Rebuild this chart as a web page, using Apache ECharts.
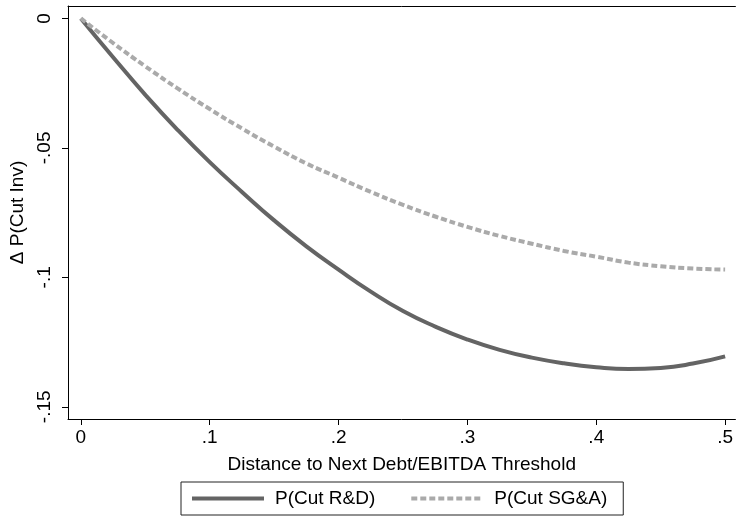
<!DOCTYPE html>
<html>
<head>
<meta charset="utf-8">
<script src="https://cdn.jsdelivr.net/npm/echarts@6/dist/echarts.min.js"></script>
<style>
html,body{margin:0;padding:0;background:#fff;}
#chart{width:736px;height:519px;}
</style>
</head>
<body>
<div id="chart"></div>
<script>
var xValues = [0, 0.025, 0.05, 0.075, 0.1, 0.125, 0.15, 0.175, 0.2, 0.225, 0.25, 0.275, 0.3, 0.325, 0.35, 0.375, 0.4, 0.425, 0.45, 0.475, 0.5];
var rdValues = [0, -0.0150, -0.0295, -0.0430, -0.0555, -0.0670, -0.0780, -0.0880, -0.0970, -0.1055, -0.1130, -0.1190, -0.1240, -0.1280, -0.1310, -0.1332, -0.1347, -0.1354, -0.1350, -0.1333, -0.1305];
var sgaValues = [0, -0.0095, -0.0185, -0.0270, -0.0350, -0.0425, -0.0495, -0.0560, -0.0615, -0.0670, -0.0720, -0.0765, -0.0805, -0.0840, -0.0870, -0.0898, -0.0920, -0.0943, -0.0957, -0.0966, -0.0970];
var seriesNames = ['P(Cut R&D)', 'P(Cut SG&A)'];
var xTicks = [0, 0.1, 0.2, 0.3, 0.4, 0.5];
var xTickLabels = ['0', '.1', '.2', '.3', '.4', '.5'];
var yTicks = [0, -0.05, -0.1, -0.15];
var yTickLabels = ['0', '-.05', '-.1', '-.15'];
var xTitle = 'Distance to Next Debt/EBITDA Threshold';
var yTitle = '\u0394 P(Cut Inv)';

function pairs(ys){ return xValues.map(function(x,i){ return [x, ys[i]]; }); }
function labelFor(ticks, labels){
  return function(v){
    for (var i=0;i<ticks.length;i++){ if (Math.abs(ticks[i]-v) < 1e-6) return labels[i]; }
    return '';
  };
}
var FONT = 'Liberation Sans, Arial, Helvetica, sans-serif';
var FS = 19;
var chart = echarts.init(document.getElementById('chart'), null, {renderer:'canvas'});
chart.setOption({
  animation: false,
  backgroundColor: '#fff',
  grid: {left: 65, right: 0, top: 6, bottom: 100, containLabel: false},
  legend: {
    left: 181, top: 482,
    borderColor: '#222', borderWidth: 1, borderRadius: 0,
    padding: [7, 16, 7, 9],
    itemWidth: 72, itemHeight: 18, itemGap: 34,
    itemStyle: {opacity: 0},
    lineStyle: {width: 4},
    textStyle: {fontFamily: FONT, fontSize: FS, color: '#000', padding: [0,0,0,6]},
    data: seriesNames
  },
  xAxis: [{
    type: 'value', min: -0.01, max: 0.508, position: 'bottom',
    splitLine: {show:false},
    axisLine: {show:true, onZero:false, lineStyle:{color:'#000', width:1}},
    axisTick: {show:true, customValues: xTicks, length: 6, lineStyle:{color:'#000'}},
    axisLabel: {customValues: xTicks, formatter: labelFor(xTicks, xTickLabels), fontFamily: FONT, fontSize: FS, color:'#000', margin: 9},
    name: xTitle, nameLocation: 'middle', nameGap: 36,
    nameTextStyle: {fontFamily: FONT, fontSize: FS, color:'#000'}
  },{
    type: 'value', min: -0.01, max: 0.508, position: 'top',
    splitLine: {show:false},
    axisLine: {show:true, onZero:false, lineStyle:{color:'#000', width:1}},
    axisTick: {show:false}, axisLabel: {show:false}
  }],
  yAxis: {
    type: 'value', min: -0.1547, max: 0.0048,
    splitLine: {show:false},
    axisLine: {show:true, onZero:false, lineStyle:{color:'#000', width:1}},
    axisTick: {show:true, customValues: yTicks, length: 6, lineStyle:{color:'#000'}},
    axisLabel: {customValues: yTicks, formatter: labelFor(yTicks, yTickLabels), rotate: 90, fontFamily: FONT, fontSize: FS, color:'#000', margin: 14},
    name: yTitle, nameLocation: 'middle', nameGap: 41, nameRotate: 90,
    nameTextStyle: {fontFamily: FONT, fontSize: FS, color:'#000'}
  },
  series: [{
    name: seriesNames[0], type: 'line', data: pairs(rdValues), smooth: true,
    showSymbol: false, symbol: 'none',
    lineStyle: {color: '#646464', width: 4},
    itemStyle: {color: '#646464'}
  },{
    name: seriesNames[1], type: 'line', data: pairs(sgaValues), smooth: true,
    showSymbol: false, symbol: 'none',
    lineStyle: {color: '#aaaaaa', width: 4, type: [6, 3]},
    itemStyle: {color: '#aaaaaa'}
  }]
});
</script>
</body>
</html>
